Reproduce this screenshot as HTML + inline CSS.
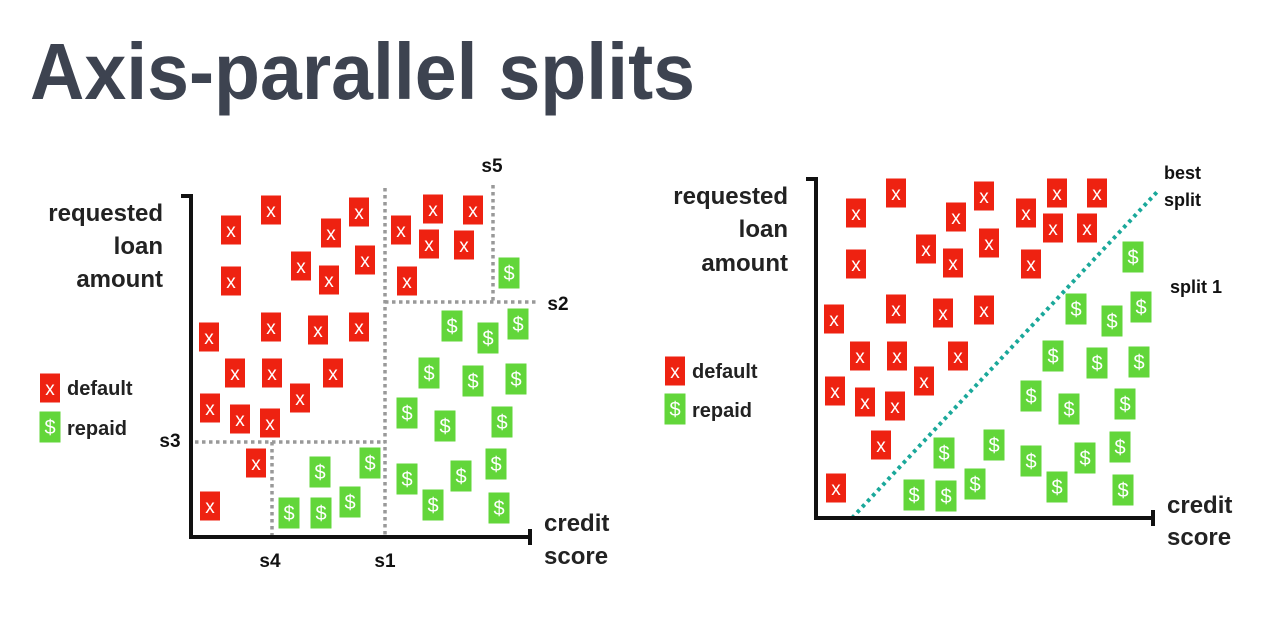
<!DOCTYPE html>
<html><head><meta charset="utf-8"><style>
html,body{margin:0;padding:0;background:#fff;}
svg{display:block;font-family:"Liberation Sans",sans-serif;}
</style></head><body>
<svg id="c" width="1281" height="640" viewBox="0 0 1281 640">
<text x="30" y="99" font-size="80" font-weight="bold" fill="#3d4350" textLength="665" lengthAdjust="spacingAndGlyphs">Axis-parallel splits</text>

<g>
 <g fill="#222" font-size="24" font-weight="bold" text-anchor="end">
  <text x="163" y="221">requested</text><text x="163" y="254">loan</text><text x="163" y="287">amount</text>
 </g>
 <g fill="#222" font-size="24" font-weight="bold">
  <text x="544" y="531">credit</text><text x="544" y="564">score</text>
 </g>
 <g stroke="#999" stroke-width="3.5" stroke-dasharray="3.5 3.5" fill="none">
  <line x1="385" y1="188" x2="385" y2="537"/>
  <line x1="385" y1="302" x2="537" y2="302"/>
  <line x1="493" y1="185" x2="493" y2="302"/>
  <line x1="195" y1="442" x2="385" y2="442"/>
  <line x1="272" y1="442" x2="272" y2="537"/>
 </g>
 <g stroke="#111" stroke-width="4" fill="none">
  <polyline points="181,196 191,196 191,537 530,537"/>
  <line x1="530" y1="529" x2="530" y2="545"/>
 </g>
 <g fill="#111" font-size="19" font-weight="bold" text-anchor="middle">
  <text x="492" y="172">s5</text><text x="558" y="310">s2</text><text x="170" y="447">s3</text>
  <text x="270" y="567">s4</text><text x="385" y="567">s1</text>
 </g>
 <g font-size="20" font-weight="bold" fill="#222">
  <text x="67" y="395">default</text><text x="67" y="435">repaid</text>
 </g>
 <g id="leftMarks"></g>
</g>

<g>
 <g fill="#222" font-size="24" font-weight="bold" text-anchor="end">
  <text x="788" y="204">requested</text><text x="788" y="237">loan</text><text x="788" y="271">amount</text>
 </g>
 <g fill="#222" font-size="24" font-weight="bold">
  <text x="1167" y="513">credit</text><text x="1167" y="545">score</text>
 </g>
 <line x1="852" y1="518" x2="1157" y2="192" stroke="#1aa89a" stroke-width="4" stroke-dasharray="3.5 4"/>
 <g stroke="#111" stroke-width="4" fill="none">
  <polyline points="806,179 816,179 816,518 1153,518"/>
  <line x1="1153" y1="510" x2="1153" y2="526"/>
 </g>
 <g fill="#111" font-size="18" font-weight="bold">
  <text x="1164" y="179">best</text><text x="1164" y="206">split</text><text x="1170" y="293">split 1</text>
 </g>
 <g font-size="20" font-weight="bold" fill="#222">
  <text x="692" y="378">default</text><text x="692" y="417">repaid</text>
 </g>
 <g id="rightMarks"></g>
</g>
</svg>
<script>
const leftDefaultX=[231,271,359,331,401,433,473,429,464,231,301,329,365,407,209,271,318,359,235,272,333,300,210,240,270,256,210];
const leftDefaultY=[230,210,212,233,230,209,210,244,245,281,266,280,260,281,337,327,330,327,373,373,373,398,408,419,423,463,506];
const leftRepaidX=[509,452,488,518,429,473,516,407,445,502,370,320,407,461,496,350,289,321,433,499];
const leftRepaidY=[273,326,338,324,373,381,379,413,426,422,463,472,479,476,464,502,513,513,505,508];
const rightDefaultX=[856,896,984,956,1026,1057,1097,1053,1087,856,926,953,989,1031,834,896,943,984,860,897,958,924,835,865,895,881,836];
const rightDefaultY=[213,193,196,217,213,193,193,228,228,264,249,263,243,264,319,309,313,310,356,356,356,381,391,402,406,445,488];
const rightRepaidX=[1133,1076,1112,1141,1053,1097,1139,1031,1069,1125,994,944,1031,1085,1120,975,914,946,1057,1123];
const rightRepaidY=[257,309,321,307,356,363,362,396,409,404,445,453,461,458,447,484,495,496,487,490];
const NS='http://www.w3.org/2000/svg';
function mark(parent,cx,cy,kind,name){
  const g=document.createElementNS(NS,'g');
  
  
  const w=kind==='x'?20:21, h=kind==='x'?29:31;
  const r=document.createElementNS(NS,'rect');
  r.setAttribute('x',cx-w/2);r.setAttribute('y',cy-h/2);r.setAttribute('width',w);r.setAttribute('height',h);
  r.setAttribute('fill',kind==='x'?'#ee2211':'#62d63a');
  const t=document.createElementNS(NS,'text');
  t.setAttribute('x',cx);t.setAttribute('y',cy+7);t.setAttribute('text-anchor','middle');
  t.setAttribute('fill','#fff');t.setAttribute('font-size',kind==='x'?'19':'20');
  t.textContent=kind==='x'?'x':'$';
  g.appendChild(r);g.appendChild(t);parent.appendChild(g);
}
const L=document.getElementById('leftMarks'),R=document.getElementById('rightMarks');
leftDefaultX.forEach((x,i)=>mark(L,x,leftDefaultY[i],'x','default-marker'));
leftRepaidX.forEach((x,i)=>mark(L,x,leftRepaidY[i],'$','repaid-marker'));
rightDefaultX.forEach((x,i)=>mark(R,x,rightDefaultY[i],'x','default-marker'));
rightRepaidX.forEach((x,i)=>mark(R,x,rightRepaidY[i],'$','repaid-marker'));
mark(L,50,388,'x','legend-default-swatch');
mark(L,50,427,'$','legend-repaid-swatch');
mark(R,675,371,'x','legend-default-swatch');
mark(R,675,409,'$','legend-repaid-swatch');
</script>
</body></html>
